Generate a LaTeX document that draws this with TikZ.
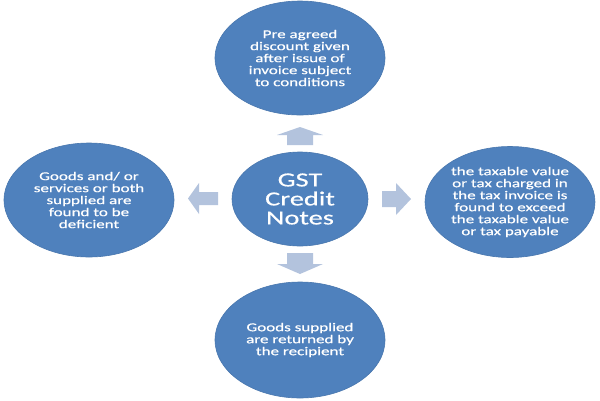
\documentclass[tikz,border=0pt]{standalone}
\usepackage{fontspec}
\setmainfont{Carlito}[FakeStretch=1.42,FakeBold=0.5]
\usetikzlibrary{shapes.geometric}
\definecolor{ellblue}{HTML}{4F81BD}
\definecolor{arrblue}{HTML}{B3C3DD}
\begin{document}
\begin{tikzpicture}[x=1pt,y=-1pt,
  bubble/.style={ellipse, fill=ellblue, draw=ellblue!92!black, line width=0.6pt,
    text=white, align=center, inner sep=0pt,
    font=\fontsize{12}{12}\selectfont},
  blockarrow/.style={fill=arrblue, draw=none}]
\useasboundingbox (0,0) rectangle (600,400);

\node[bubble, minimum width=170pt, minimum height=114pt] (top) at (300,58)
  {Pre agreed\\discount given\\after issue of\\invoice subject\\to conditions};
\node[bubble, minimum width=170pt, minimum height=114pt] (left) at (89,200)
  {Goods and/ or\\services or both\\supplied are\\found to be\\deficient};
\node[bubble, minimum width=170pt, minimum height=111pt] (right) at (510,202)
  {the taxable value\\or tax charged in\\the tax invoice is\\found to exceed\\the taxable value\\or tax payable};
\node[bubble, minimum width=170pt, minimum height=116pt] (bottom) at (300,340)
  {Goods supplied\\are returned by\\the recipient};
\node[bubble, minimum width=136pt, minimum height=94pt,
  font=\fontsize{20}{19}\selectfont] (center) at (300,199)
  {GST\\Credit\\Notes};

% block arrows
\fill[blockarrow] (287,145) -- (287,135) -- (277,135) -- (300,127) -- (323,135)
  -- (313,135) -- (313,145) -- cycle;
\fill[blockarrow] (287,253) -- (313,253) -- (313,264) -- (323,264) -- (300,274)
  -- (277,264) -- (287,264) -- cycle;
\fill[blockarrow] (218,192) -- (199,192) -- (199,183) -- (188,198.5) -- (199,214)
  -- (199,205) -- (218,205) -- cycle;
\fill[blockarrow] (382,191) -- (396,191) -- (396,183) -- (411,199) -- (396,215)
  -- (396,207) -- (382,207) -- cycle;
\end{tikzpicture}
\end{document}
